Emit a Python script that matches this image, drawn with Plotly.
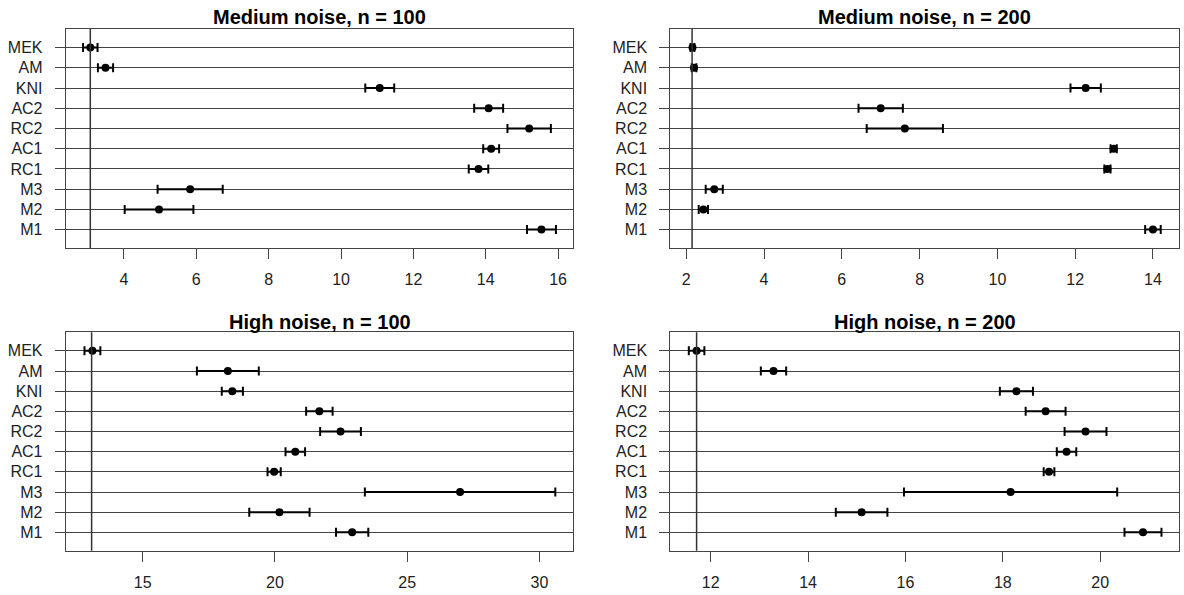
import plotly.graph_objects as go

# Methods, listed top to bottom as they appear in each dot chart
methods = ["MEK", "AM", "KNI", "AC2", "RC2", "AC1", "RC1", "M3", "M2", "M1"]

# Medium noise, n = 100
med100_mean = [3.07, 3.49, 11.07, 14.08, 15.20, 14.15, 13.80, 5.83, 4.97, 15.54]
med100_err = [0.20, 0.21, 0.40, 0.40, 0.60, 0.22, 0.27, 0.90, 0.95, 0.40]

# Medium noise, n = 200
med200_mean = [2.16, 2.20, 12.27, 7.00, 7.62, 12.99, 12.83, 2.72, 2.44, 14.00]
med200_err = [0.05, 0.06, 0.39, 0.57, 0.98, 0.08, 0.08, 0.22, 0.12, 0.20]

# High noise, n = 100
high100_mean = [13.10, 18.22, 18.39, 21.68, 22.48, 20.77, 19.97, 27.00, 20.17, 22.92]
high100_err = [0.30, 1.17, 0.40, 0.50, 0.77, 0.37, 0.25, 3.60, 1.14, 0.61]

# High noise, n = 200
high200_mean = [11.71, 13.29, 18.28, 18.88, 19.70, 19.31, 18.95, 18.16, 15.10, 20.88]
high200_err = [0.16, 0.26, 0.34, 0.41, 0.43, 0.20, 0.11, 2.19, 0.53, 0.38]

titles = ["Medium noise, n = 100", "Medium noise, n = 200",
          "High noise, n = 100", "High noise, n = 200"]
means = [med100_mean, med200_mean, high100_mean, high200_mean]
errs = [med100_err, med200_err, high100_err, high200_err]

# Reference (best) value marked by a vertical line in each panel
ref_lines = [3.07, 2.15, 13.07, 11.71]

x_ranges = [[2.39, 16.42], [1.59, 14.67], [12.09, 31.28], [11.17, 21.62]]
x_ticks = [[4, 6, 8, 10, 12, 14, 16], [2, 4, 6, 8, 10, 12, 14],
           [15, 20, 25, 30], [12, 14, 16, 18, 20]]

W, H = 1184, 595
x_doms = [[65.7 / W, 573.3 / W], [670.3 / W, 1179 / W]]
y_doms = [[1 - 248 / H, 1 - 29 / H], [1 - 550.7 / H, 1 - 332.3 / H]]
title_y = [17, 322]

font_family = "Liberation Sans, Arial, sans-serif"
line_col = "#444444"

fig = go.Figure()
layout = dict(
    width=W, height=H,
    margin=dict(l=0, r=0, t=0, b=0),
    paper_bgcolor="white", plot_bgcolor="white",
    showlegend=False,
    font=dict(family=font_family, size=16, color="#222222"),
)
annotations = []
shapes = []

for i in range(4):
    r, c = divmod(i, 2)
    n = i + 1
    xa = "x" if n == 1 else f"x{n}"
    ya = "y" if n == 1 else f"y{n}"
    fig.add_trace(go.Scatter(
        x=means[i], y=methods, mode="markers",
        marker=dict(color="black", size=8, symbol="circle"),
        error_x=dict(type="data", array=errs[i], color="black",
                     thickness=2, width=4.5),
        xaxis=xa, yaxis=ya, cliponaxis=False,
    ))
    layout["xaxis" if n == 1 else f"xaxis{n}"] = dict(
        domain=x_doms[c], anchor=ya, range=x_ranges[i],
        tickvals=x_ticks[i], ticks="outside", ticklen=10, tickwidth=1,
        tickcolor=line_col, showgrid=False, zeroline=False,
        showline=True, linecolor=line_col, linewidth=1, mirror=True,
        ticklabelstandoff=7,
        tickfont=dict(size=16, color="#222222"),
    )
    layout["yaxis" if n == 1 else f"yaxis{n}"] = dict(
        domain=y_doms[r], anchor=xa, type="category",
        categoryorder="array", categoryarray=methods[::-1],
        range=[-0.91, 9.92], ticks="outside", ticklen=10, tickwidth=1,
        tickcolor=line_col, showgrid=True, gridcolor=line_col, gridwidth=1,
        zeroline=False, showline=True, linecolor=line_col, linewidth=1,
        mirror=True, ticklabelstandoff=9,
        tickfont=dict(size=16, color="#222222"),
    )
    shapes.append(dict(type="line", xref=xa, yref=f"{ya} domain",
                       x0=ref_lines[i], x1=ref_lines[i], y0=0, y1=1,
                       line=dict(color="#333333", width=1.5)))
    annotations.append(dict(
        text=f"<b>{titles[i]}</b>", xref="paper", yref="paper",
        x=sum(x_doms[c]) / 2, y=1 - title_y[r] / H,
        xanchor="center", yanchor="middle", showarrow=False,
        font=dict(size=20, color="black", family=font_family),
    ))

layout["annotations"] = annotations
layout["shapes"] = shapes
fig.update_layout(**layout)
fig.write_html("out.html")
